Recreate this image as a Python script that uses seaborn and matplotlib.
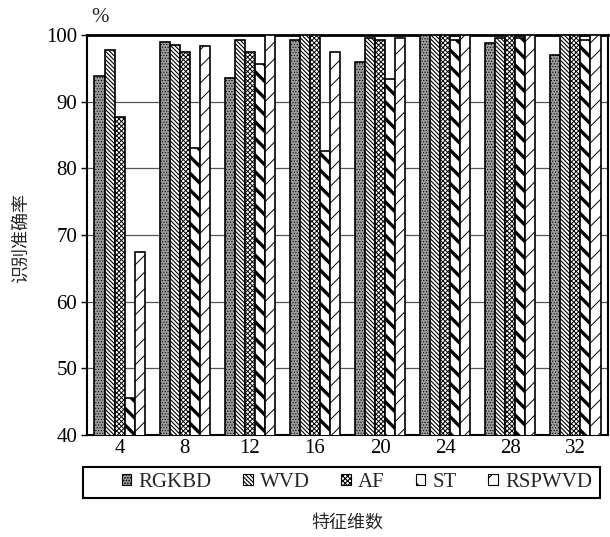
import matplotlib
matplotlib.use("Agg")
import matplotlib.pyplot as plt
import seaborn as sns
import pandas as pd
from matplotlib.patches import Patch, Rectangle

dims = ["4", "8", "12", "16", "20", "24", "28", "32"]
methods = ["RGKBD", "WVD", "AF", "ST", "RSPWVD"]
rgkbd = [93.9, 98.9, 93.5, 99.2, 96.0, 100.0, 98.8, 97.0]
wvd = [97.8, 98.5, 99.2, 100.0, 99.6, 100.0, 99.6, 100.0]
af = [87.7, 97.5, 97.4, 100.0, 99.2, 100.0, 100.0, 100.0]
st = [45.5, 83.1, 95.6, 82.6, 93.4, 99.3, 99.6, 99.3]
rspwvd = [67.5, 98.4, 100.0, 97.4, 99.6, 100.0, 100.0, 100.0]

series = {"RGKBD": rgkbd, "WVD": wvd, "AF": af, "ST": st, "RSPWVD": rspwvd}
rows = []
for m in methods:
    for d, v in zip(dims, series[m]):
        rows.append({"dim": d, "method": m, "acc": v})
df = pd.DataFrame(rows)

sns.set_theme(style="white")
plt.rcParams['font.family'] = ['Liberation Serif', 'Noto Sans CJK SC', 'DejaVu Sans']
plt.rcParams['hatch.linewidth'] = 0.8

W, H = 610, 537
fig = plt.figure(figsize=(W / 100, H / 100), dpi=100)
ax = fig.add_axes([87 / W, 1 - 435 / H, 521 / W, 400 / H])

colors = {"RGKBD": "#9c9c9c", "WVD": "white", "AF": "white", "ST": "white", "RSPWVD": "white"}
hatches = {"RGKBD": "......", "WVD": "\\\\\\\\\\\\\\\\", "AF": "xxxxxxx", "ST": "\\\\", "RSPWVD": "//"}
hlw = {"RGKBD": 0.5, "WVD": 0.8, "AF": 0.7, "ST": 2.4, "RSPWVD": 0.7}

sns.barplot(data=df, x="dim", y="acc", hue="method", order=dims, hue_order=methods,
            palette=colors, width=0.77, edgecolor="black", linewidth=1.2, ax=ax,
            legend=False, zorder=3)

for i, cont in enumerate(ax.containers):
    m = methods[i]
    for p in cont:
        p.set_hatch(hatches[m])
        try:
            p.set_hatch_linewidth(hlw[m])
        except Exception:
            pass

ax.set_ylim(40, 100)
ax.set_yticks(range(40, 101, 10))
ax.yaxis.grid(True, color="#555555", linewidth=0.9, zorder=0)
ax.set_axisbelow(True)
ax.set_xlabel("")
ax.set_ylabel("")
for s in ax.spines.values():
    s.set_color("black")
    s.set_linewidth(1.5)
ax.spines['top'].set_linewidth(2.0)
ax.tick_params(axis='both', labelsize=15, colors='black', length=4, width=1, direction='out')
ax.tick_params(axis='x', length=0, pad=3)
ax.tick_params(axis='y', left=True, pad=3)

fig.text(100 / W, 1 - 17 / H, "%", fontsize=15, ha="center", va="center")
fig.text(21 / W, 1 - 238 / H, "识别准确率", rotation=90, fontsize=13, ha="center", va="center",
         family=['Noto Sans CJK SC', 'DejaVu Sans'])
fig.text(347 / W, 1 - 523 / H, "特征维数", fontsize=13, ha="center", va="center",
         family=['Noto Sans CJK SC', 'DejaVu Sans'])

handles = []
for m in methods:
    h = Patch(facecolor=colors[m], edgecolor="black", hatch=hatches[m], linewidth=0.8)
    handles.append(h)
leg = fig.legend(handles, methods, loc="center", ncol=5,
                 bbox_to_anchor=(120 / W, 1 - 498 / H, 474 / W, 31 / H), mode="expand",
                 frameon=False, fontsize=15, handlelength=0.45, handleheight=0.45,
                 handletextpad=0.35, borderaxespad=0, borderpad=0.1)
fig.add_artist(Rectangle((83 / W, 1 - 498 / H), 517 / W, 31 / H, transform=fig.transFigure,
                         fill=False, edgecolor="black", linewidth=1.5))

fig.savefig("out.png", dpi=100)
